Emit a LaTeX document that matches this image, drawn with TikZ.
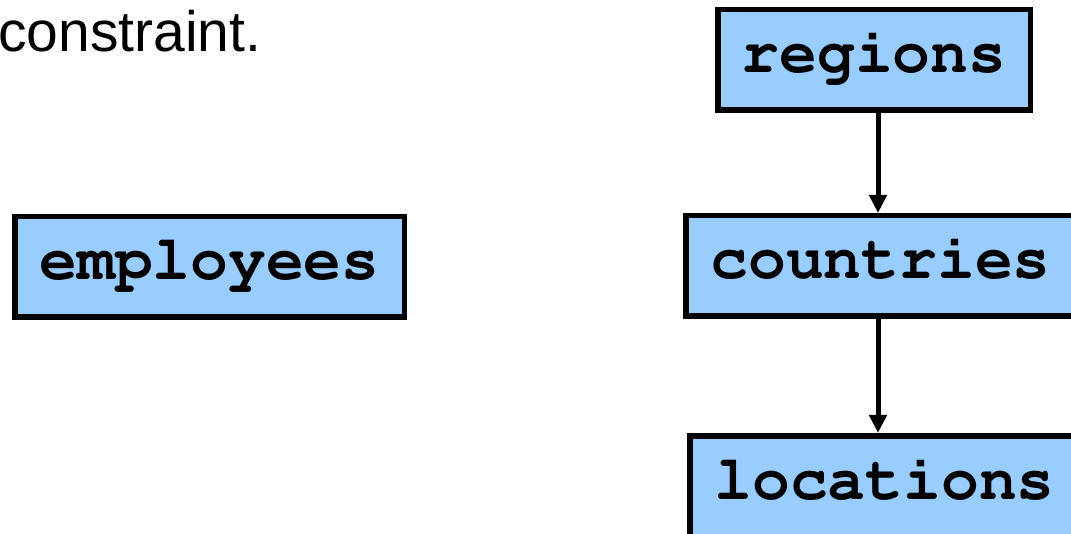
\documentclass[tikz,border=0pt]{standalone}
\usepackage[T1]{fontenc}
\usepackage{fontspec}
\setmainfont{Liberation Sans}
\usetikzlibrary{arrows.meta}
\newcommand\tablefont{\fontencoding{T1}\fontfamily{pcr}\bfseries\fontsize{63}{70}\selectfont}
\definecolor{tablefill}{HTML}{99CCFF}
\tikzset{
  tablebox/.style={draw=black, fill=tablefill, line width=5.5pt, inner sep=0pt,
    minimum height=100.5pt, text height=40pt, text depth=14pt,
    font=\tablefont},
  fklink/.style={draw=black, line width=5pt,
    -{Triangle[width=17pt,length=18pt]}},
}
\begin{document}
\begin{tikzpicture}[x=1pt,y=-1pt]
  \clip (0,0) rectangle (1071,534);
  \fill[white] (0,0) rectangle (1071,534);

  % trailing line of the slide text
  \node[anchor=base west, inner sep=0pt, font=\fontsize{57}{64}\selectfont]
    (caption) at (-2,52) {constraint.};

  % tables
  \node[tablebox, minimum width=389.5pt] (employees) at (209.5,267) {employees};
  \node[tablebox, minimum width=312.5pt] (regions)   at (874,60)    {regions};
  \node[tablebox, minimum width=389.5pt] (countries) at (880.5,266) {countries};
  \node[tablebox, minimum width=389.5pt] (locations) at (884.5,486) {locations};

  % foreign-key chain
  \coordinate (fkx) at (878,0);
  \draw[fklink] (regions.south -| fkx) -- (countries.north -| fkx);
  \draw[fklink] (countries.south -| fkx) -- (locations.north -| fkx);
\end{tikzpicture}
\end{document}
